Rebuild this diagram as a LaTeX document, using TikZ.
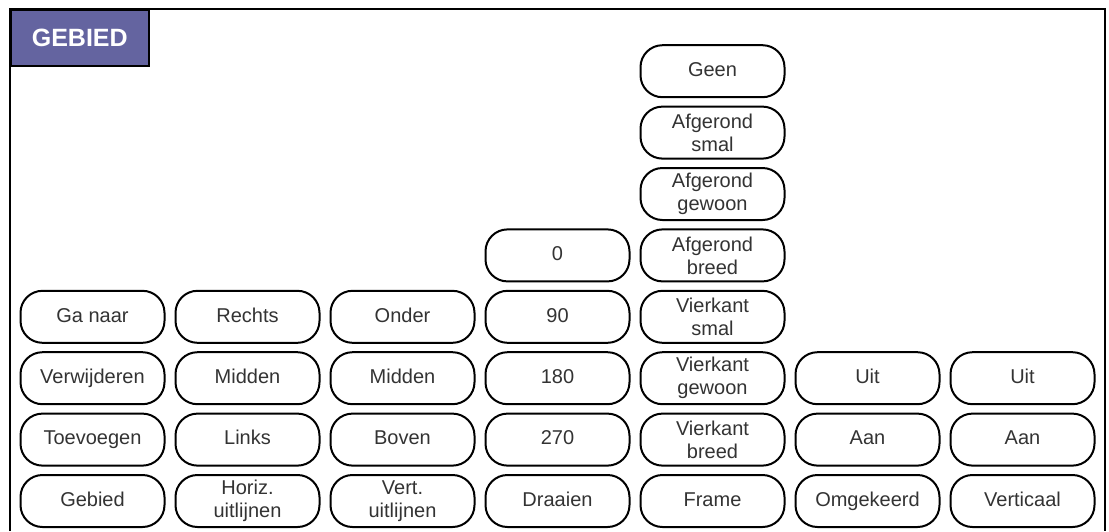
\documentclass[tikz,border=0pt]{standalone}
\usepackage{fontspec}
\setmainfont{Liberation Sans}
\begin{document}
\begin{tikzpicture}[x=1pt,y=-1pt,
  opt/.style={draw=black, line width=2pt, rounded corners=22pt, minimum width=144pt, minimum height=52pt, inner sep=0pt, align=center, text=black!80, font=\fontsize{20}{23}\selectfont},
  one/.style={opt, text height=14.5pt, text depth=4pt},
  titlebox/.style={draw=black, line width=1.5pt, fill=titlefill, text=white, font=\fontsize{25}{28}\selectfont\bfseries, minimum width=138pt, minimum height=56pt, inner sep=0pt, anchor=north west},
  frameline/.style={draw=black, line width=2pt}]
\definecolor{titlefill}{HTML}{6464A0}
\useasboundingbox (0,0) rectangle (1109,531);
\fill[white] (0,0) rectangle (1109,531);
\draw[frameline] (10,531) -- (10,9) -- (1105,9) -- (1105,531);
\node[titlebox] (title) at (10,9) {GEBIED};
% columns
\def\ca{92.5}\def\cb{247.5}\def\cc{402.5}\def\cd{557.5}\def\ce{712.5}\def\cf{867.5}\def\cg{1022.5}
% rows
\def\ra{501}\def\rb{439.6}\def\rc{378.2}\def\rd{316.8}\def\re{255.4}\def\rf{194}\def\rg{132.6}\def\rh{71.2}
% col 1
\node[one] (gebied) at (\ca,\ra) {Gebied};
\node[one] (toevoegen) at (\ca,\rb) {Toevoegen};
\node[one] (verwijderen) at (\ca,\rc) {Verwijderen};
\node[one] (ganaar) at (\ca,\rd) {Ga naar};
% col 2
\node[opt] (horiz) at (\cb,\ra) {Horiz.\\uitlijnen};
\node[one] (links) at (\cb,\rb) {Links};
\node[one] (middenh) at (\cb,\rc) {Midden};
\node[one] (rechts) at (\cb,\rd) {Rechts};
% col 3
\node[opt] (vert) at (\cc,\ra) {Vert.\\uitlijnen};
\node[one] (boven) at (\cc,\rb) {Boven};
\node[one] (middenv) at (\cc,\rc) {Midden};
\node[one] (onder) at (\cc,\rd) {Onder};
% col 4
\node[one] (draaien) at (\cd,\ra) {Draaien};
\node[one] (d270) at (\cd,\rb) {270};
\node[one] (d180) at (\cd,\rc) {180};
\node[one] (d90) at (\cd,\rd) {90};
\node[one] (d0) at (\cd,\re) {0};
% col 5
\node[one] (frame) at (\ce,\ra) {Frame};
\node[opt] (vkbreed) at (\ce,\rb) {Vierkant\\breed};
\node[opt] (vkgewoon) at (\ce,\rc) {Vierkant\\gewoon};
\node[opt] (vksmal) at (\ce,\rd) {Vierkant\\smal};
\node[opt] (agbreed) at (\ce,\re) {Afgerond\\breed};
\node[opt] (aggewoon) at (\ce,\rf) {Afgerond\\gewoon};
\node[opt] (agsmal) at (\ce,\rg) {Afgerond\\smal};
\node[one] (geen) at (\ce,\rh) {Geen};
% col 6
\node[one] (omgekeerd) at (\cf,\ra) {Omgekeerd};
\node[one] (aan1) at (\cf,\rb) {Aan};
\node[one] (uit1) at (\cf,\rc) {Uit};
% col 7
\node[one] (verticaal) at (\cg,\ra) {Verticaal};
\node[one] (aan2) at (\cg,\rb) {Aan};
\node[one] (uit2) at (\cg,\rc) {Uit};
\end{tikzpicture}
\end{document}
